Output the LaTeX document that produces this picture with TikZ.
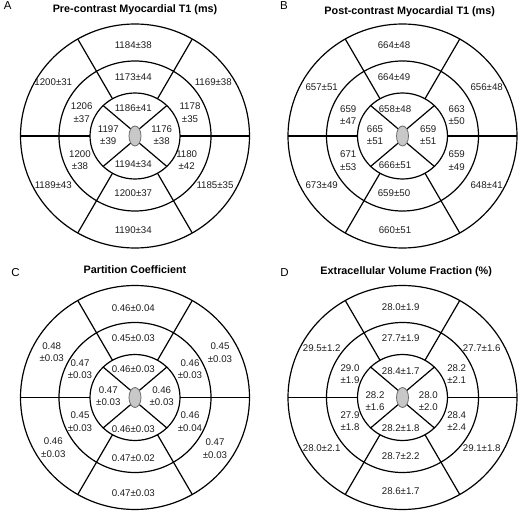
\documentclass[tikz,border=0pt]{standalone}
\usepackage{fontspec}
\setmainfont{Liberation Sans}
\usetikzlibrary{calc}
\definecolor{apexfill}{RGB}{200,200,200}
\definecolor{apexline}{RGB}{110,110,110}
\newcommand\drawbullseye[2]{%
  \coordinate (#1c) at (#2);
  \draw[ring] (#1c) ellipse [x radius=114.5pt, y radius=112pt];
  \draw[ring] (#1c) ellipse [x radius=76pt, y radius=75pt];
  \draw[ring] (#1c) ellipse [x radius=45pt, y radius=43pt];
  \foreach \a in {0,60,120,180,240,300}
    \draw[ring] ($(#1c)+(\a:45pt and 43pt)$) -- ($(#1c)+(\a:114.5pt and 112pt)$);
  \foreach \a in {45,135,225,315}
    \draw[ring] ($(#1c)+(\a:5.5pt and 9.5pt)$) -- ($(#1c)+(\a:45pt and 43pt)$);
  \draw[apex] (#1c) ellipse [x radius=6pt, y radius=10pt];
}
\begin{document}
\begin{tikzpicture}[x=1pt,y=-1pt,
  ring/.style={line width=1.2pt,black},
  apex/.style={line width=0.8pt,draw=apexline,fill=apexfill},
  val/.style={font=\fontsize{9.7}{12.3}\selectfont,align=center,inner sep=0pt,text=black!88},
  ttl/.style={font=\fontsize{10.8}{13}\selectfont\bfseries,anchor=base,inner sep=0pt},
  lett/.style={font=\fontsize{11.5}{13}\selectfont,anchor=base,inner sep=0pt}]
\useasboundingbox[fill=white] (0,0) rectangle (520,513);

% ---------- Panel A ----------
\node[lett] (lA) at (7.8,10) {A};
\node[ttl] (tA) at (135,13) {Pre-contrast Myocardial T1 (ms)};
\drawbullseye{A}{135,136}
\node[val] (A1) at (133.3,45) {1184±38};
\node[val] (A2) at (133.3,76.7) {1173±44};
\node[val] (A3) at (133.3,108.3) {1186±41};
\node[val] (A4) at (133.3,164.3) {1194±34};
\node[val] (A5) at (133.3,193.3) {1200±37};
\node[val] (A6) at (133.3,230) {1190±34};
\node[val] (A7) at (53.3,81.7) {1200±31};
\node[val] (A8) at (213.3,81.7) {1169±38};
\node[val] (A9) at (53.3,185) {1189±43};
\node[val] (A10) at (215,185) {1185±35};
\node[val] (A11) at (81.7,112.7) {1206\\±37};
\node[val] (A12) at (190,112.7) {1178\\±35};
\node[val] (A13) at (80,160) {1200\\±38};
\node[val] (A14) at (186.7,160) {1180\\±42};
\node[val] (A15) at (108.3,135) {1197\\±39};
\node[val] (A16) at (161.7,135) {1176\\±38};

% ---------- Panel B ----------
\node[lett] (lB) at (284,10) {B};
\node[ttl] (tB) at (409.7,15) {Post-contrast Myocardial T1 (ms)};
\drawbullseye{B}{402.5,136}
\node[val] (B1) at (394,45) {664±48};
\node[val] (B2) at (394,76.7) {664±49};
\node[val] (B3) at (395,109.3) {658±48};
\node[val] (B4) at (395,165) {666±51};
\node[val] (B5) at (394,192.7) {659±50};
\node[val] (B6) at (395,230) {660±51};
\node[val] (B7) at (321.7,86.7) {657±51};
\node[val] (B8) at (486.7,86.7) {656±48};
\node[val] (B9) at (321.7,185) {673±49};
\node[val] (B10) at (486.7,185) {648±41};
\node[val] (B11) at (348.3,115) {659\\±47};
\node[val] (B12) at (456.7,115) {663\\±50};
\node[val] (B13) at (348.3,160.7) {671\\±53};
\node[val] (B14) at (456.7,160.7) {659\\±49};
\node[val] (B15) at (375,135) {665\\±51};
\node[val] (B16) at (428.3,135) {659\\±51};

% ---------- Panel C ----------
\node[lett] (lC) at (15.5,276.7) {C};
\node[ttl] (tC) at (135,273.3) {Partition Coefficient};
\drawbullseye{C}{135,397.5}
\node[val] (C1) at (133.3,307.7) {0.46±0.04};
\node[val] (C2) at (133.3,337.7) {0.45±0.03};
\node[val] (C3) at (133.3,369.3) {0.46±0.03};
\node[val] (C4) at (133.3,428.7) {0.46±0.03};
\node[val] (C5) at (133.3,457.7) {0.47±0.02};
\node[val] (C6) at (133.3,492.7) {0.47±0.03};
\node[val] (C7) at (51.7,352) {0.48\\±0.03};
\node[val] (C8) at (220,352.7) {0.45\\±0.03};
\node[val] (C9) at (53.3,447.7) {0.46\\±0.03};
\node[val] (C10) at (215,448.7) {0.47\\±0.03};
\node[val] (C11) at (80,369.3) {0.47\\±0.03};
\node[val] (C12) at (190,369.3) {0.46\\±0.03};
\node[val] (C13) at (80,421.7) {0.45\\±0.03};
\node[val] (C14) at (190,421.7) {0.46\\±0.04};
\node[val] (C15) at (108.3,396) {0.47\\±0.03};
\node[val] (C16) at (161.7,396) {0.46\\±0.03};

% ---------- Panel D ----------
\node[lett] (lD) at (284.5,276.7) {D};
\node[ttl] (tD) at (406.2,274.3) {Extracellular Volume Fraction (\%)};
\drawbullseye{D}{402.5,397.5}
\node[val] (D1) at (400.7,306.7) {28.0±1.9};
\node[val] (D2) at (400.7,337.7) {27.7±1.9};
\node[val] (D3) at (400.7,371) {28.4±1.7};
\node[val] (D4) at (400.7,427.7) {28.2±1.8};
\node[val] (D5) at (400.7,456) {28.7±2.2};
\node[val] (D6) at (400.7,491) {28.6±1.7};
\node[val] (D7) at (321.7,347.7) {29.5±1.2};
\node[val] (D8) at (481.7,347.7) {27.7±1.6};
\node[val] (D9) at (321.7,447.7) {28.0±2.1};
\node[val] (D10) at (481.7,447.7) {29.1±1.8};
\node[val] (D11) at (350,374.3) {29.0\\±1.9};
\node[val] (D12) at (456.7,374.3) {28.2\\±2.1};
\node[val] (D13) at (350,421) {27.9\\±1.8};
\node[val] (D14) at (456.7,421) {28.4\\±2.4};
\node[val] (D15) at (375,401) {28.2\\±1.6};
\node[val] (D16) at (428.3,401) {28.0\\±2.0};
\end{tikzpicture}
\end{document}
